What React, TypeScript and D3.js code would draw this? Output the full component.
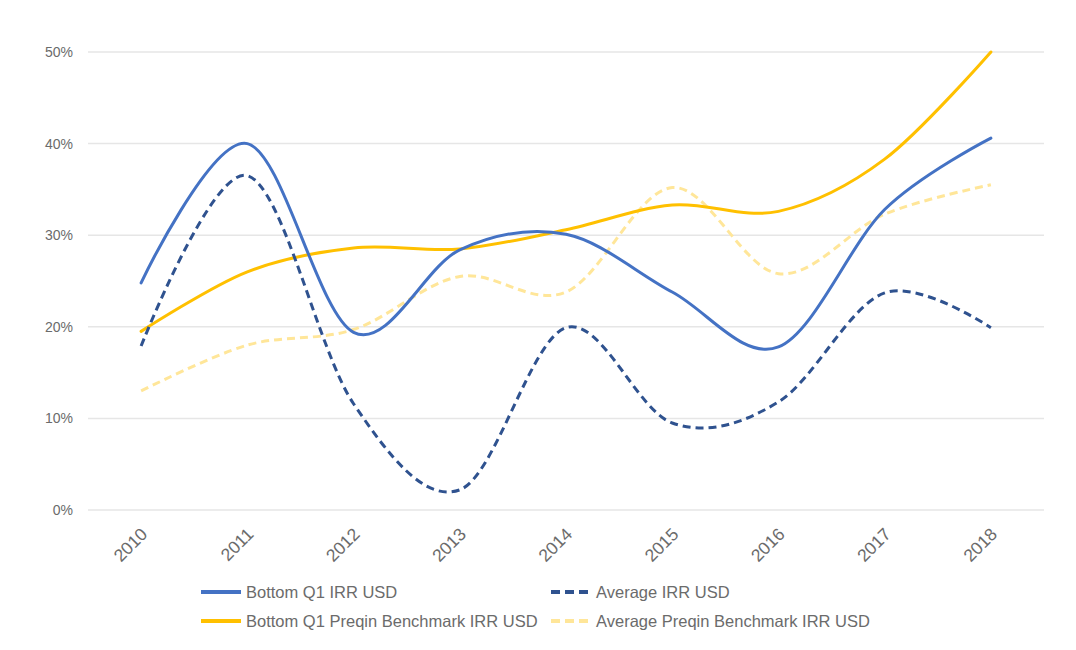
import { useRef, useEffect } from 'react';
import * as d3 from 'd3';

const years = ['2010', '2011', '2012', '2013', '2014', '2015', '2016', '2017', '2018'];
const bottomQ1Irr = [24.8, 40.0, 19.4, 28.4, 30.1, 23.8, 17.8, 32.8, 40.6];
const averageIrr = [17.9, 36.5, 11.6, 2.2, 19.9, 9.5, 11.8, 23.7, 19.9];
const bottomQ1Benchmark = [19.5, 26.0, 28.6, 28.5, 30.6, 33.3, 32.6, 38.3, 50.0];
const averageBenchmark = [13.0, 18.0, 19.7, 25.5, 23.8, 35.2, 25.8, 32.3, 35.5];
const yTicks = [0, 10, 20, 30, 40, 50];

const series = [
    { name: 'Bottom Q1 IRR USD', values: bottomQ1Irr, color: '#4472c4', dash: null },
    { name: 'Average IRR USD', values: averageIrr, color: '#2f528f', dash: '8,5' },
    { name: 'Bottom Q1 Preqin Benchmark IRR USD', values: bottomQ1Benchmark, color: '#ffc000', dash: null },
    { name: 'Average Preqin Benchmark IRR USD', values: averageBenchmark, color: '#ffe699', dash: '8,5' },
];

export default function App() {
    const svgRef = useRef<SVGSVGElement>(null);
    const width = 1076;
    const height = 650;

    useEffect(() => {
        if (!svgRef.current) return;
        const svg = d3.select(svgRef.current);
        svg.selectAll('*').remove();

        const left = 88;
        const right = 1044;
        const top = 52;
        const bottom = 510;
        const font = '"Liberation Sans", Arial, sans-serif';
        const textColor = '#6b6b6b';

        const x = d3.scalePoint<string>().domain(years).range([left, right]).padding(0.5);
        const y = d3.scaleLinear().domain([0, 50]).range([bottom, top]);

        // gridlines + y labels
        const grid = svg.append('g');
        yTicks.forEach(t => {
            grid.append('line')
                .attr('x1', left)
                .attr('x2', right)
                .attr('y1', y(t))
                .attr('y2', y(t))
                .attr('stroke', '#e6e6e6')
                .attr('stroke-width', 1.5);
            grid.append('text')
                .attr('x', 73)
                .attr('y', y(t))
                .attr('dy', '0.35em')
                .attr('text-anchor', 'end')
                .attr('font-family', font)
                .attr('font-size', 14)
                .attr('fill', textColor)
                .text(`${t}%`);
        });

        // x labels, rotated
        years.forEach(yr => {
            svg.append('text')
                .attr('transform', `translate(${(x(yr) ?? 0) + 3},${bottom + 21}) rotate(-45)`)
                .attr('text-anchor', 'end')
                .attr('dy', '0.35em')
                .attr('font-family', font)
                .attr('font-size', 17.5)
                .attr('fill', textColor)
                .text(yr);
        });

        // lines
        const line = d3.line<number>()
            .x((_, i) => x(years[i]) ?? 0)
            .y(d => y(d))
            .curve(d3.curveCardinal.tension(0));

        const order = [3, 2, 1, 0];
        order.forEach(idx => {
            const s = series[idx];
            svg.append('path')
                .attr('d', line(s.values))
                .attr('fill', 'none')
                .attr('stroke', s.color)
                .attr('stroke-width', 3)
                .attr('stroke-dasharray', s.dash)
                .attr('stroke-linecap', s.dash ? 'butt' : 'round');
        });

        // legend
        const legend = svg.append('g');
        const cols = [201, 551];
        const rows = [592, 621];
        series.forEach((s, i) => {
            const lx = cols[i % 2];
            const ly = rows[Math.floor(i / 2)];
            legend.append('line')
                .attr('x1', lx)
                .attr('x2', lx + 40)
                .attr('y1', ly)
                .attr('y2', ly)
                .attr('stroke', s.color)
                .attr('stroke-width', 4)
                .attr('stroke-dasharray', s.dash ? '9,5' : null);
            legend.append('text')
                .attr('x', lx + 45)
                .attr('y', ly)
                .attr('dy', '0.35em')
                .attr('font-family', font)
                .attr('font-size', 16.5)
                .attr('fill', textColor)
                .text(s.name);
        });
    }, []);

    return (
        <svg
            ref={svgRef}
            width={width}
            height={height}
            style={{ position: 'absolute', left: 0, top: 0, background: '#fff' }}
        />
    );
}
